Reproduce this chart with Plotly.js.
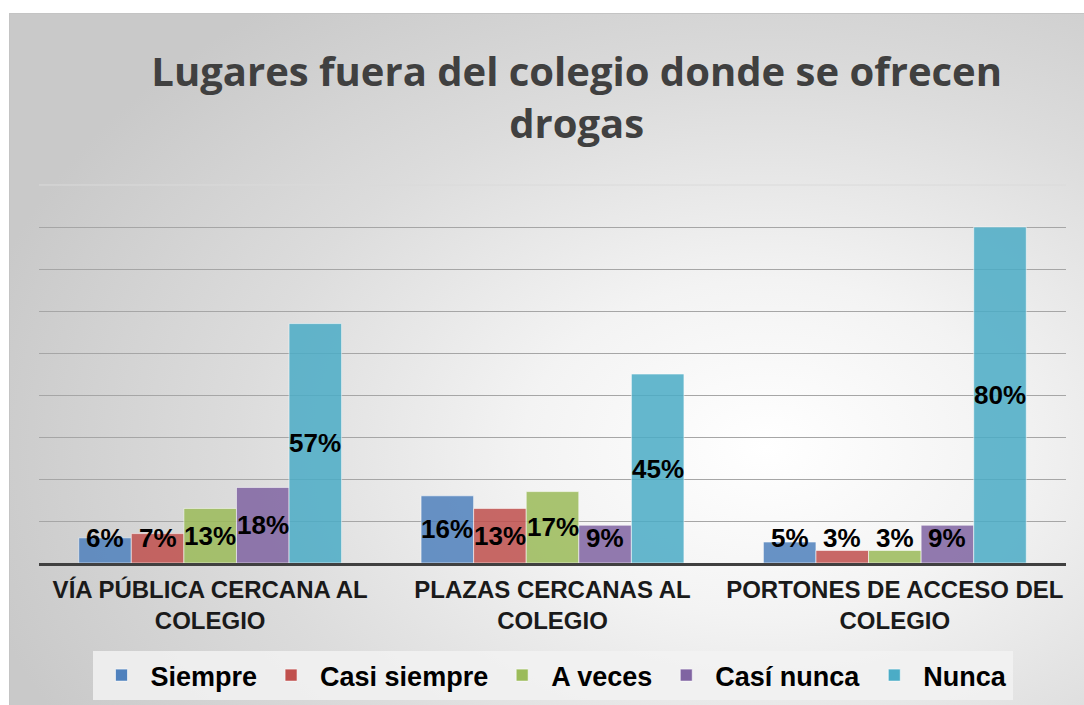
<!DOCTYPE html>
<html><head><meta charset="utf-8">
<script src="https://cdn.plot.ly/plotly-3.0.1.min.js"></script>
<style>
html,body{margin:0;padding:0;background:#fff;width:1084px;height:705px;overflow:hidden;}
#bg{position:absolute;left:9px;top:13px;width:1080px;height:700px;border:1px solid #c4c4c4;
background:radial-gradient(ellipse 75% 80% at 70% 62%, #ffffff 0%, #f3f3f3 30%, #dcdcdc 65%, #c9c9c9 100%);}
#chart{position:absolute;left:0;top:0;width:1084px;height:705px;}
</style></head>
<body>
<div id="bg"></div>
<div id="chart"></div>
<script>
const categories = ["VÍA PÚBLICA CERCANA AL<br>COLEGIO", "PLAZAS CERCANAS AL<br>COLEGIO", "PORTONES DE ACCESO DEL<br>COLEGIO"];
const seriesNames = ["Siempre", "Casi siempre", "A veces", "Casí nunca", "Nunca"];
const siempre = [6, 16, 5];
const casiSiempre = [7, 13, 3];
const aVeces = [13, 17, 3];
const casiNunca = [18, 9, 9];
const nunca = [57, 45, 80];
const gridTicks = [10, 20, 30, 40, 50, 60, 70, 80];

const series = [siempre, casiSiempre, aVeces, casiNunca, nunca];
const colors = ["#4f81bd", "#c0504d", "#9bbb59", "#8064a2", "#4bacc6"];
const xs = [0, 1, 2];
const bargap = 0.232;
const bw = (1 - bargap) / series.length;

const traces = series.map((vals, i) => ({
  type: "bar",
  name: seriesNames[i],
  x: xs,
  y: vals,
  marker: {color: colors[i], opacity: 0.85, line: {color: "rgba(255,255,255,0.6)", width: 1}},
  hoverinfo: "skip"
}));

const annotations = [];
series.forEach((vals, i) => {
  vals.forEach((v, j) => {
    annotations.push({
      xref: "x", yref: "y",
      x: xs[j] + (i - 2) * bw,
      y: Math.max(v / 2, 6),
      text: "<b>" + v + "%</b>",
      showarrow: false,
      font: {family: "Liberation Sans, Arial, sans-serif", size: 26, color: "#000"},
      xanchor: "center", yanchor: "middle"
    });
  });
});

const layout = {
  width: 1084, height: 705,
  paper_bgcolor: "rgba(0,0,0,0)",
  plot_bgcolor: "rgba(0,0,0,0)",
  margin: {l: 39, r: 18, t: 185, b: 142, autoexpand: false},
  title: {
    text: "<b>Lugares fuera del colegio donde se ofrecen<br>drogas</b>",
    font: {family: "Open Sans, sans-serif", size: 40, color: "#404040"},
    x: 0.532, xanchor: "center", y: 0.878, yanchor: "middle"
  },
  barmode: "group",
  bargap: bargap,
  bargroupgap: 0,
  showlegend: true,
  legend: {
    orientation: "h", x: 0.5, xanchor: "center", y: -0.233, yanchor: "top",
    bgcolor: "rgba(242,242,242,0.85)", borderwidth: 0,
    font: {family: "Liberation Sans, Arial, sans-serif", size: 27, color: "#000", weight: "bold"},
    itemwidth: 48, traceorder: "normal"
  },
  xaxis: {
    range: [-0.5, 2.5], automargin: false,
    tickvals: xs, ticktext: categories.map(c => "<b>" + c + "</b>"),
    tickfont: {family: "Liberation Sans, Arial, sans-serif", size: 24, color: "#1a1a1a"},
    showline: true, linecolor: "#404040", linewidth: 3,
    showgrid: false, zeroline: false, ticks: "", fixedrange: true,
    ticklabelstandoff: 3
  },
  yaxis: {
    range: [0, 90], automargin: false,
    tickvals: gridTicks, showticklabels: false,
    showgrid: true, gridcolor: "#a6a6a6", gridwidth: 1,
    zeroline: false, showline: false, ticks: "", fixedrange: true
  },
  shapes: [{type: "line", xref: "paper", yref: "paper", x0: 0, x1: 1, y0: 1, y1: 1, line: {color: "#dadada", width: 1}}],
  annotations: annotations
};

Plotly.newPlot("chart", traces, layout, {displayModeBar: false, staticPlot: true});
</script>
</body></html>
